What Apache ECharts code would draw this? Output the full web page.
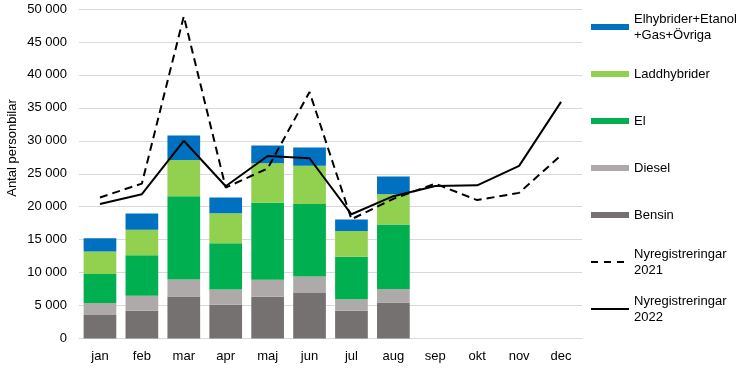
<!DOCTYPE html>
<html>
<head>
<meta charset="utf-8">
<script src="https://cdn.jsdelivr.net/npm/echarts@6/dist/echarts.min.js"></script>
<style>html,body{margin:0;padding:0;background:#fff}#c{width:746px;height:369px}</style>
</head>
<body>
<div id="c"></div>
<script>
const months = ['jan','feb','mar','apr','maj','jun','jul','aug','sep','okt','nov','dec'];
const bensin = [3560, 4200, 6390, 5120, 6330, 6900, 4200, 5480];
const diesel = [1820, 2300, 2580, 2330, 2570, 2520, 1740, 2020];
const el = [4390, 6150, 12630, 7020, 11700, 10980, 6460, 9800];
const laddhybrider = [3430, 3850, 5500, 4530, 6000, 5800, 3900, 4600];
const elhybrider = [2030, 2470, 3700, 2400, 2700, 2800, 1760, 2700];
const nyreg2021 = [21400, 23500, 48900, 22900, 25800, 37400, 18100, 21200, 23500, 21000, 22100, 27800];
const nyreg2022 = [20400, 21900, 30000, 23100, 27700, 27350, 18850, 21600, 23150, 23250, 26200, 35900];
const yTicks = {min: 0, max: 50000, interval: 5000};

const FONT = 'Liberation Sans';
const names = {
  e: 'Elhybrider+Etanol\n+Gas+Övriga',
  l: 'Laddhybrider',
  el: 'El',
  d: 'Diesel',
  b: 'Bensin',
  n21: 'Nyregistreringar\n2021',
  n22: 'Nyregistreringar\n2022'
};
const colors = {b: '#767171', d: '#AEAAAA', el: '#00B050', l: '#92D050', e: '#0070C0'};
const ICON_DASH = 'path://M0,0L7,0L7,2L0,2Z M13,0L20,0L20,2L13,2Z M26,0L33,0L33,2L26,2Z';
const ICON_SOLID = 'path://M0,0L38,0L38,2L0,2Z';

function fmt(v) { return String(v).replace(/\B(?=(\d{3})+(?!\d))/g, ' '); }

function barSeries(key, data) {
  return {
    name: names[key], type: 'bar', stack: 'total', data: data,
    barCategoryGap: '22%',
    itemStyle: {color: colors[key]},
    emphasis: {disabled: true}
  };
}

function legend(key, top, twoLine, icon, w) {
  const isLine = icon !== 'rect';
  return {
    data: [names[key]],
    left: 591, top: top, padding: 0,
    itemWidth: w || 38, itemHeight: isLine ? 2 : 6,
    icon: icon,
    selectedMode: false,
    textStyle: {
      fontFamily: FONT, fontSize: 13, color: '#000', lineHeight: 16,
      padding: twoLine ? [16, 0, 0, w ? 38 - w : 0] : 0
    }
  };
}

const chart = echarts.init(document.getElementById('c'), null, {renderer: 'canvas'});
chart.setOption({
  animation: false,
  backgroundColor: '#fff',
  grid: {left: 79, right: 164, top: 9, bottom: 30.5, containLabel: false},
  xAxis: {
    type: 'category', data: months,
    axisLine: {lineStyle: {color: '#d9d9d9', width: 1}},
    axisTick: {show: false},
    axisLabel: {fontFamily: FONT, fontSize: 13, color: '#000', margin: 11}
  },
  yAxis: {
    type: 'value', min: yTicks.min, max: yTicks.max, interval: yTicks.interval,
    axisLine: {show: false}, axisTick: {show: false},
    splitLine: {lineStyle: {color: '#d9d9d9', width: 1}},
    axisLabel: {fontFamily: FONT, fontSize: 13, color: '#000', margin: 12, formatter: fmt}
  },
  graphic: [{
    type: 'text', x: 12, y: 148, rotation: Math.PI / 2,
    style: {text: 'Antal personbilar', fontFamily: FONT, fontSize: 13, fill: '#000', align: 'center', verticalAlign: 'middle'}
  }],
  legend: [
    legend('e', 3, true, 'rect'),
    legend('l', 66, false, 'rect'),
    legend('el', 113, false, 'rect'),
    legend('d', 160, false, 'rect'),
    legend('b', 207, false, 'rect'),
    legend('n21', 238, true, ICON_DASH, 33),
    legend('n22', 285, true, ICON_SOLID)
  ],
  series: [
    barSeries('b', bensin),
    barSeries('d', diesel),
    barSeries('el', el),
    barSeries('l', laddhybrider),
    barSeries('e', elhybrider),
    {
      name: names.n21, type: 'line', data: nyreg2021, symbol: 'none',
      lineStyle: {color: '#000', width: 2, type: [8, 5]}, itemStyle: {color: '#000'},
      emphasis: {disabled: true}, z: 5
    },
    {
      name: names.n22, type: 'line', data: nyreg2022, symbol: 'none',
      lineStyle: {color: '#000', width: 2, type: 'solid'}, itemStyle: {color: '#000'},
      emphasis: {disabled: true}, z: 6
    }
  ]
});
</script>
</body>
</html>
